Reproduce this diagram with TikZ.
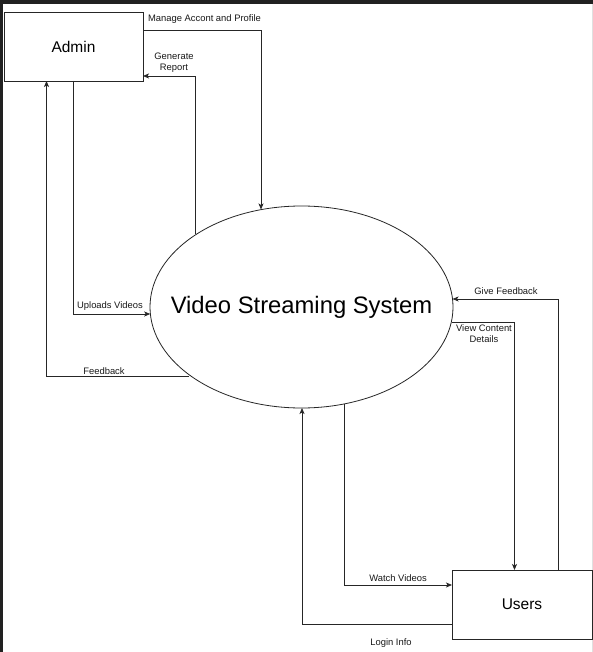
\documentclass[tikz,border=0pt]{standalone}
\usepackage{fontspec}
\setmainfont{Liberation Sans}
\usetikzlibrary{shapes.geometric,arrows.meta}
\begin{document}
\begin{tikzpicture}[x=1pt,y=-1pt,
  entity/.style={draw=black!85, line width=0.8pt, rectangle, inner sep=0pt, outer sep=0pt, font=\fontsize{15.5}{18}\selectfont},
  proc/.style={draw=black!85, line width=0.8pt, ellipse, inner sep=0pt, outer sep=0pt},
  flow/.style={draw=black!85, line width=0.8pt, -{Stealth[length=6pt,width=5pt,inset=1.5pt]}},
  lbl/.style={inner sep=0pt, font=\fontsize{9.4}{11.5}\selectfont, align=center, text=black!90}]
\useasboundingbox (0,0) rectangle (593,652);
\fill[white] (0,0) rectangle (593,652);
\fill[black!87] (0,0) rectangle (593,4);
\fill[black!87] (0,0) rectangle (3,652);
\draw[black!12, line width=1pt] (592.5,4) -- (592.5,652);

\node[entity, minimum width=139pt, minimum height=69pt] (admin) at (73.5,46.5) {Admin};
\node[entity, minimum width=140pt, minimum height=69pt] (users) at (522,604.5) {Users};
\node[proc, minimum width=303pt, minimum height=202pt,
  label={[font=\fontsize{23.8}{28}\selectfont, inner sep=0pt]center:Video Streaming System}] (vs) at (301.5,307) {};

\coordinate (m1) at (261,30);
\coordinate (g1) at (195,76);
\coordinate (u1) at (73,314);
\coordinate (f1) at (46.5,376);
\coordinate (gf) at (558,299);
\coordinate (vc) at (514.5,322);
\coordinate (w1) at (344,585);
\coordinate (l1) at (302,624);

\draw[flow] (admin.east |- m1) -- (m1) -- (vs.112.6 -| m1);
\draw[flow] (vs.145.9 -| g1) -- (g1) -- (g1 -| admin.east);
\draw[flow] (admin.south -| u1) -- (u1) -- (u1 -| vs.182.65);
\draw[flow] (f1 -| vs.211.96) -- (f1) -- (admin.south -| f1);
\draw[flow] (users.north -| gf) -- (gf) -- (gf -| vs.3.03);
\draw[flow] (vc -| vs.-5.72) -- (vc) -- (users.north -| vc);
\draw[flow] (vs.293.67 -| w1) -- (w1) -- (w1 -| users.west);
\draw[flow] (users.west |- l1) -- (l1) -- (vs.south -| l1);

\node[lbl] (t1) at (204.5,19.5) {Manage Accont and Profile};
\node[lbl] (t2) at (174,62.5) {Generate\\Report};
\node[lbl] (t3) at (110,306) {Uploads Videos};
\node[lbl] (t4) at (104,371) {Feedback};
\node[lbl] (t5) at (506,291) {Give Feedback};
\node[lbl] (t6) at (484,333.5) {View Content\\Details};
\node[lbl] (t7) at (398,578) {Watch Videos};
\node[lbl] (t8) at (391,643) {Login Info};
\end{tikzpicture}
\end{document}
